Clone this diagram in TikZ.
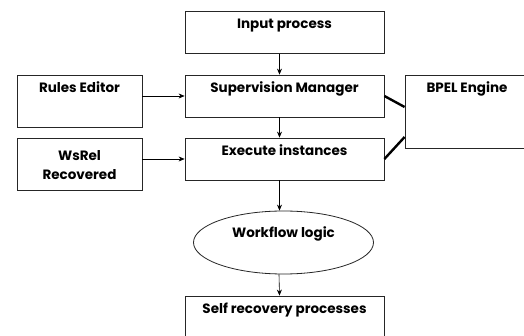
\documentclass[tikz,border=0pt]{standalone}
\usepackage{fontspec}
\setmainfont{Poppins}
\usetikzlibrary{shapes.geometric,arrows.meta}

\tikzset{
  box/.style={draw=black!85, line width=0.8pt, minimum width=199pt, minimum height=42pt, inner sep=0pt},
  title/.style={font=\fontsize{13.5}{16}\selectfont\bfseries, align=center},
  flow/.style={-{Stealth[length=6pt,width=5pt]}, line width=0.6pt},
  link/.style={line width=2.4pt}
}

\begin{document}
\begin{tikzpicture} [x=1pt, y=-1pt]

	\clip (0,0) rectangle (524,336);
	\fill [white] (0,0) rectangle (524,336);

	\node [box] (input) at (284.5,32.5) {};
	\node [box] (super) at (284.5,96) {};
	\node [box] (exec) at (284.5,159) {};
	\node [box, minimum width=125pt, minimum height=52pt] (rules) at (79.5,101) {};
	\node [box, minimum width=125pt, minimum height=52pt] (wsrel) at (79.5,164) {};
	\node [box, minimum width=140pt, minimum height=73pt] (bpel) at (475,111.5) {};
	\node [box, ellipse, minimum width=180pt, minimum height=63pt] (logic) at (283.5,242.5) {};
	\node [box, minimum height=52pt] (self) at (284.5,322) {};

	\node [title, below=4pt] at (input.north) {Input process};
	\node [title, below=4pt] at (super.north) {Supervision Manager};
	\node [title, below=4pt] at (exec.north) {Execute instances};
	\node [title, below=4pt] at (rules.north) {Rules Editor};
	\node [title] at ([yshift=-1pt]wsrel.center) {WsRel\\[3pt]Recovered};
	\node [title, below=4pt] at ([xshift=-8pt]bpel.north) {BPEL Engine};
	\node [title, yshift=9pt] at (logic.center) {Workflow logic};
	\node [title, below=4pt] at (self.north) {Self recovery processes};

	\draw [flow] ([xshift=-5pt]input.south) -- ([xshift=-5pt]super.north);
	\draw [flow] ([xshift=-5pt]super.south) -- ([xshift=-5pt]exec.north);
	\draw [flow] ([xshift=-5pt]exec.south) -- ([xshift=-5pt]exec.south |- logic.north);
	\draw [flow] ([xshift=-4.5pt]logic.south) -- ([xshift=-5pt]self.north);

	\draw [flow] (rules.east |- super.west) -- (super.west);
	\draw [flow] (wsrel.east |- exec.west) -- (exec.west);

	\draw [link] (super.east) -- ([yshift=4.5pt]bpel.west);
	\draw [link] (exec.east) -- ([yshift=-25.5pt]bpel.west);
\end{tikzpicture}
\end{document}
